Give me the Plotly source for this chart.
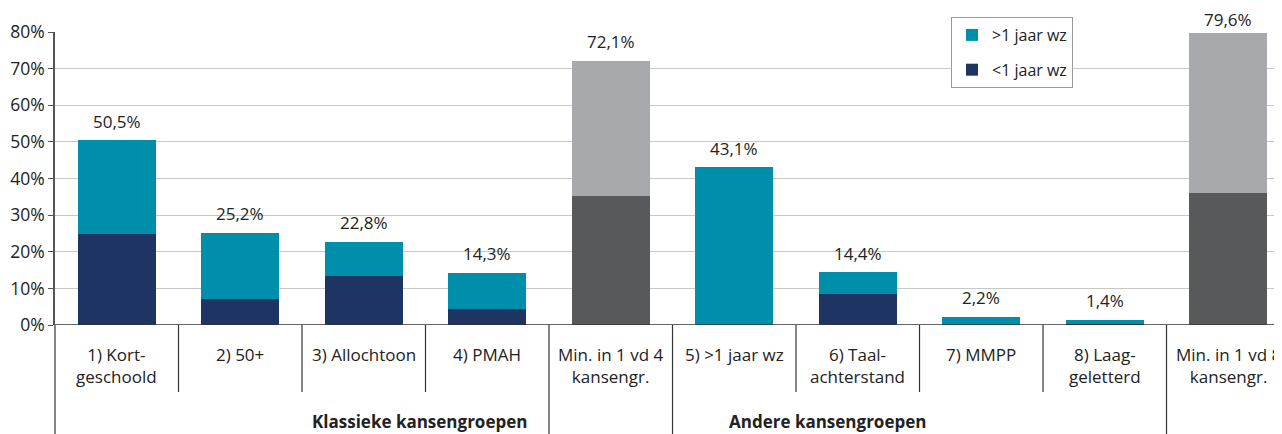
import plotly.graph_objects as go

categories = ["1) Kort-<br>geschoold", "2) 50+", "3) Allochtoon", "4) PMAH",
              "Min. in 1 vd 4<br>kansengr.", "5) >1 jaar wz", "6) Taal-<br>achterstand",
              "7) MMPP", "8) Laag-<br>geletterd", "Min. in 1 vd 8<br>kansengr."]
totals = [50.5, 25.2, 22.8, 14.3, 72.1, 43.1, 14.4, 2.2, 1.4, 79.6]
short_term = [24.9, 7.1, 13.4, 4.4, 35.3, 0.0, 8.5, 0.0, 0.3, 36.1]
is_total = [False, False, False, False, True, False, False, False, False, True]
groups = [("Klassieke kansengroepen", 0, 3), ("Andere kansengroepen", 5, 8)]
y_ticks = [0, 10, 20, 30, 40, 50, 60, 70, 80]

TEAL = "#008FAB"
NAVY = "#1E3563"
LGREY = "#A7A9AC"
DGREY = "#58595B"
FONT = "Open Sans"
TXT = "#222"

x = list(range(len(categories)))
long_term = [round(t - s, 1) for t, s in zip(totals, short_term)]
bottom_colors = [DGREY if t else NAVY for t in is_total]
top_colors = [LGREY if t else TEAL for t in is_total]

fig = go.Figure()
fig.add_bar(x=x, y=short_term, name="&lt;1 jaar wz", marker_color=bottom_colors,
            marker_line_width=0, width=0.63, legendrank=2, legendgroup="b")
fig.add_bar(x=x, y=long_term, name="&gt;1 jaar wz", marker_color=top_colors,
            marker_line_width=0, width=0.63, legendrank=1, legendgroup="a")

XMIN, XMAX = -0.5, 9.435
YMAX = 80
PLOT_W, PLOT_H = 1227, 293


def px(v):
    return (v - XMIN) / (XMAX - XMIN)


# value labels (kept inside the figure near the top edge)
for i, t in enumerate(totals):
    shift = min(19, (YMAX - t) * PLOT_H / YMAX + 13)
    fig.add_annotation(x=i, y=t, text=f"{t:.1f}%".replace(".", ","), showarrow=False,
                       yanchor="middle", yshift=shift, font=dict(family=FONT, size=17, color=TXT))

# category labels
for i, c in enumerate(categories):
    fig.add_annotation(x=px(i), xref="paper", y=-(341 - 325) / PLOT_H, yref="paper", text=c,
                       showarrow=False, yanchor="top", xanchor="center", align="center",
                       font=dict(family=FONT, size=17, color=TXT))

# separators
inner_bottom = -(392 - 325) / PLOT_H
full_bottom = -(440 - 325) / PLOT_H
full_seps = {-0.5, 3.5, 4.5, 8.5, 9.5}
for b in [k - 0.5 for k in range(len(categories) + 1)]:
    if b > XMAX:
        continue
    yb = full_bottom if b in full_seps else inner_bottom
    fig.add_shape(type="line", xref="paper", yref="paper", x0=px(b), x1=px(b),
                  y0=0, y1=yb, line=dict(color="#333", width=1.2))

# group labels
for name, a, b in groups:
    fig.add_annotation(x=px((a + b) / 2), xref="paper", y=-(421 - 325) / PLOT_H, yref="paper",
                       text=f"<b>{name}</b>", showarrow=False, yanchor="middle", xshift=8,
                       font=dict(family=FONT, size=17, color=TXT))

fig.update_layout(
    barmode="stack",
    width=1282, height=434,
    margin=dict(l=47, r=8, t=24, b=117, autoexpand=False),
    paper_bgcolor="white", plot_bgcolor="white",
    font=dict(family=FONT, size=17, color=TXT),
    showlegend=True,
    legend=dict(x=(951 - 55) / PLOT_W, y=1 + (32 - 17) / PLOT_H,
                xanchor="left", yanchor="top", bgcolor="white", bordercolor="#999",
                borderwidth=1, font=dict(family=FONT, size=16, color=TXT),
                tracegroupgap=11, traceorder="grouped", itemwidth=30),
    xaxis=dict(range=[XMIN, XMAX], showticklabels=False, showgrid=False, zeroline=False,
               showline=False, ticks="", automargin=False),
    yaxis=dict(range=[0, YMAX], tickvals=y_ticks, ticktext=[f"{v}%" for v in y_ticks],
               showgrid=True, gridcolor="#C8C8C8", gridwidth=1.2, zeroline=False,
               showline=True, linecolor="#555", linewidth=1.5, ticks="outside",
               ticklen=5, tickcolor="#555", automargin=False,
               tickfont=dict(family=FONT, size=17.5, color=TXT)),
)
fig.add_shape(type="line", xref="paper", yref="y", x0=0, x1=1, y0=0, y1=0,
              line=dict(color="#333", width=1.5))

fig.write_html("out.html")
